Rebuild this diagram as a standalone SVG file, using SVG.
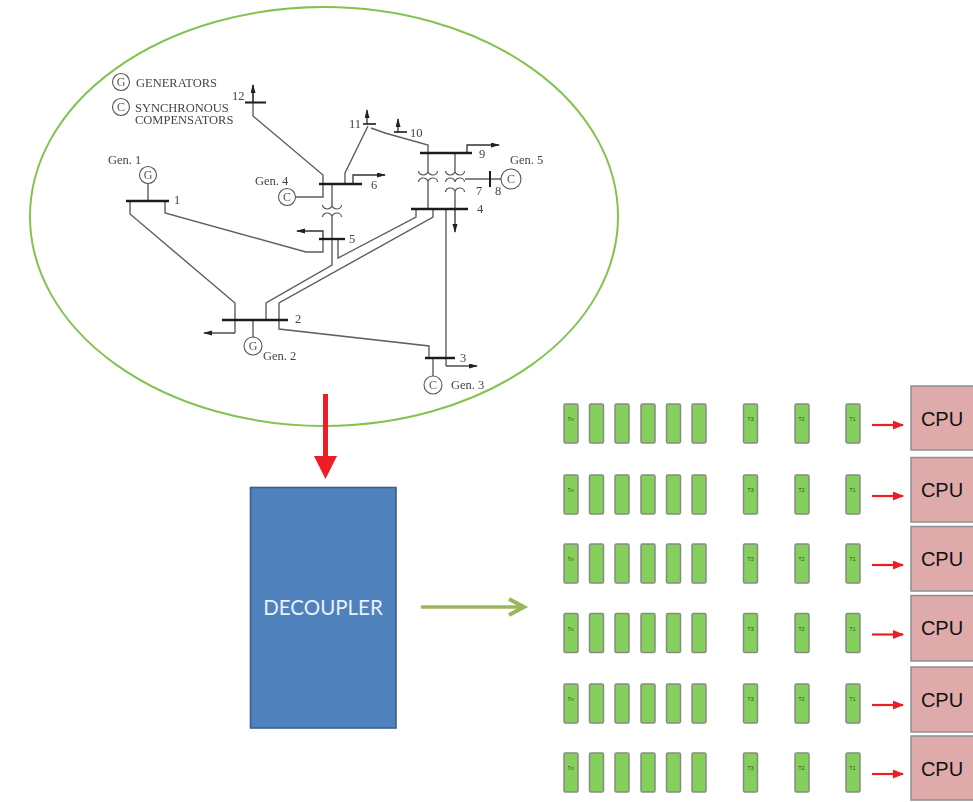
<svg xmlns="http://www.w3.org/2000/svg" width="973" height="802" viewBox="0 0 973 802">
<style>
.ln{fill:none;stroke:#5e5e5e;stroke-width:1.4}
.ar{fill:none;stroke:#333;stroke-width:1.3;marker-end:url(#ah)}
.bus{stroke:#1a1a1a;stroke-width:2.4;fill:none}
.c{fill:#fff;stroke:#555;stroke-width:1.1}
.t{font-family:"Liberation Serif",serif;font-size:12.5px;fill:#444}
.cl{font-family:"Liberation Serif",serif;font-size:12px;fill:#555;text-anchor:middle}
.task{fill:#85cf5c;stroke:#878c82;stroke-width:1.5}
.tl{font-family:"Liberation Sans",sans-serif;font-size:5px;fill:#2f4a20;text-anchor:middle}
.cpu{fill:#dfaaaa;stroke:#8f8f8f;stroke-width:1.5}
.cput{font-family:"Liberation Sans",sans-serif;font-size:20px;fill:#111;text-anchor:middle}
.ra{fill:none;stroke:#ee1c25;stroke-width:2.2;marker-end:url(#rh)}
.coil{fill:none;stroke:#555;stroke-width:1.2}
</style>
<defs>
<marker id="ah" markerWidth="9" markerHeight="6" refX="8" refY="2.5" orient="auto" markerUnits="userSpaceOnUse"><path d="M0 0L9 2.5L0 5Z" fill="#222"/></marker>
<marker id="rh" markerWidth="11" markerHeight="9" refX="10" refY="4.5" orient="auto" markerUnits="userSpaceOnUse"><path d="M0 0L11 4.5L0 9Z" fill="#ee1c25"/></marker>
<filter id="soft" x="-5%" y="-5%" width="110%" height="110%"><feGaussianBlur stdDeviation="0.4"/></filter>
<path id="cu" class="coil" d="M-9.5 0A4.75 4 0 0 0 0 0A4.75 4 0 0 0 9.5 0"/>
<path id="cd" class="coil" d="M-9.5 0A4.75 4 0 0 1 0 0A4.75 4 0 0 1 9.5 0"/>
<g id="row">
<rect class="task" x="564" y="0" width="14" height="39" rx="1.5"/>
<rect class="task" x="589.500" y="0" width="14" height="39" rx="1.5"/>
<rect class="task" x="615" y="0" width="14" height="39" rx="1.5"/>
<rect class="task" x="641" y="0" width="14" height="39" rx="1.5"/>
<rect class="task" x="666.500" y="0" width="14" height="39" rx="1.500"/>
<rect class="task" x="692" y="0" width="14" height="39" rx="1.5"/>
<rect class="task" x="743.500" y="0" width="14" height="39" rx="1.5"/>
<rect class="task" x="795" y="0" width="14" height="39" rx="1.5"/>
<rect class="task" x="846" y="0" width="14" height="39" rx="1.5"/>
<text class="tl" x="570.500" y="17">Tn</text>
<text class="tl" x="750.500" y="17">T3</text>
<text class="tl" x="801.500" y="17">T2</text>
<text class="tl" x="852.500" y="17">T1</text>
</g>
</defs>
<rect width="973" height="802" fill="#fff"/>
<ellipse id="network-boundary" cx="324" cy="216.500" rx="294" ry="209.500" fill="none" stroke="#84c250" stroke-width="2"/>
<g filter="url(#soft)">
<g id="connectors">
<path class="ln" d="M148 184V201M130 201V214L235 303V333M165 201V213L306 252H323V239"/>
<path class="ln" d="M323 184V197H296M253 85V116L323 175V184M345 184V173L368 126M371 128L385 133L428 145V153"/>
<path class="ln" d="M332 184V205M332 217V265L266 303V320M338 239V258L416 217V209M433 209V217L279 303V329L429 346V358"/>
<path class="ln" d="M428 153V171M428 182V209M455 153V171M455 192V209M465 179H489M491 179H501M446 209V366M433 358V376M253 320V337"/>
<path class="ar" d="M253 102V85"/>
<path class="ar" d="M367 124V110"/>
<path class="ar" d="M398 132V119"/>
<path class="ar" d="M467 153V145H499"/>
<path class="ar" d="M353 184V175H385"/>
<path class="ar" d="M455 209V232"/>
<path class="ar" d="M323 239V231H297"/>
<path class="ar" d="M235 333H204"/>
<path class="ar" d="M446 366H477"/>
<use href="#cu" x="332" y="205"/><use href="#cd" x="332" y="217"/>
<use href="#cu" x="428" y="171"/><use href="#cd" x="428" y="182"/>
<use href="#cu" x="455" y="171"/><use href="#cd" x="455" y="182"/><use href="#cd" x="455" y="192"/>
</g>
<g id="legend">
<circle class="c" cx="121" cy="82" r="8.500"/><text class="cl" x="121" y="86">G</text>
<text class="t" x="136" y="86.500">GENERATORS</text>
<circle class="c" cx="121" cy="107" r="8.500"/><text class="cl" x="121" y="111">C</text>
<text class="t" x="135" y="111.500">SYNCHRONOUS</text>
<text class="t" x="135" y="124">COMPENSATORS</text>
</g>
<g id="bus-1"><path class="bus" d="M126 201H169"/><text class="t" x="174" y="204">1</text></g>
<g id="bus-2"><path class="bus" d="M222 320H288"/><text class="t" x="295" y="323">2</text></g>
<g id="bus-3"><path class="bus" d="M425 358H455"/><text class="t" x="460" y="362">3</text></g>
<g id="bus-4"><path class="bus" d="M411 209H468"/><text class="t" x="477" y="213">4</text></g>
<g id="bus-5"><path class="bus" d="M319 239H345"/><text class="t" x="349" y="243">5</text></g>
<g id="bus-6"><path class="bus" d="M319 184H362"/><text class="t" x="371" y="189">6</text></g>
<g id="bus-7"><text class="t" x="476" y="195">7</text></g>
<g id="bus-8"><path class="bus" style="stroke-width:2" d="M490 171V187"/><text class="t" x="495" y="195">8</text></g>
<g id="bus-9"><path class="bus" d="M420 153H472"/><text class="t" x="479" y="158">9</text></g>
<g id="bus-10"><path class="bus" style="stroke-width:1.6" d="M394 132H407"/><text class="t" x="410" y="137">10</text></g>
<g id="bus-11"><path class="bus" style="stroke-width:1.6" d="M363 124H376"/><text class="t" x="349" y="128">11</text></g>
<g id="bus-12"><path class="bus" style="stroke-width:2" d="M245 102.500H266"/><text class="t" x="232" y="100">12</text></g>
<g id="gen-1"><circle class="c" cx="148" cy="175" r="8.500"/><text class="cl" x="148" y="179">G</text><text class="t" x="108" y="164">Gen. 1</text></g>
<g id="gen-2"><circle class="c" cx="253" cy="346" r="9"/><text class="cl" x="253" y="350">G</text><text class="t" x="263" y="360">Gen. 2</text></g>
<g id="gen-3"><circle class="c" cx="433" cy="385" r="9"/><text class="cl" x="433" y="389">C</text><text class="t" x="451" y="389">Gen. 3</text></g>
<g id="gen-4"><circle class="c" cx="287" cy="197" r="8.500"/><text class="cl" x="287" y="201">C</text><text class="t" x="255" y="185">Gen. 4</text></g>
<g id="gen-5"><circle class="c" cx="511" cy="179" r="10"/><text class="cl" x="511" y="183">C</text><text class="t" x="510" y="164">Gen. 5</text></g>
</g>
<g id="flow-arrows">
<path d="M323 394H328V456H337L325.500 479L314 456H323Z" fill="#ee1c25"/>
<path d="M421 607H522" fill="none" stroke="#9bb75c" stroke-width="3.500"/>
<path d="M509 599L524 607L509 615" fill="none" stroke="#9bb75c" stroke-width="4"/>
</g>
<g id="decoupler">
<rect x="250.500" y="487.500" width="145.500" height="240.500" fill="#4f81bd" stroke="#3b5f8c" stroke-width="1.600"/>
<text x="323" y="615" font-family="Lato,'Open Sans',sans-serif" font-size="20.500" fill="#e8f0f8" text-anchor="middle">DECOUPLER</text>
</g>
<g id="queue-1"><use href="#row" y="404"/></g>
<g id="queue-2"><use href="#row" y="475"/></g>
<g id="queue-3"><use href="#row" y="544"/></g>
<g id="queue-4"><use href="#row" y="613.500"/></g>
<g id="queue-5"><use href="#row" y="684"/></g>
<g id="queue-6"><use href="#row" y="753"/></g>
<g id="cpu-arrows">
<path class="ra" d="M872 425H903"/><path class="ra" d="M872 496H903"/><path class="ra" d="M872 565H903"/><path class="ra" d="M872 634.500H903"/><path class="ra" d="M872 705H903"/><path class="ra" d="M872 774H903"/>
</g>
<g id="cpu-1"><rect class="cpu" x="911" y="386" width="70" height="64"/><text class="cput" x="942" y="426">CPU</text></g>
<g id="cpu-2"><rect class="cpu" x="911" y="457.500" width="70" height="64.500"/><text class="cput" x="942" y="497">CPU</text></g>
<g id="cpu-3"><rect class="cpu" x="911" y="526.500" width="70" height="64.500"/><text class="cput" x="942" y="566">CPU</text></g>
<g id="cpu-4"><rect class="cpu" x="911" y="595.500" width="70" height="65.500"/><text class="cput" x="942" y="635">CPU</text></g>
<g id="cpu-5"><rect class="cpu" x="911" y="667" width="70" height="65"/><text class="cput" x="942" y="707">CPU</text></g>
<g id="cpu-6"><rect class="cpu" x="911" y="736" width="70" height="64"/><text class="cput" x="942" y="776">CPU</text></g>
</svg>
